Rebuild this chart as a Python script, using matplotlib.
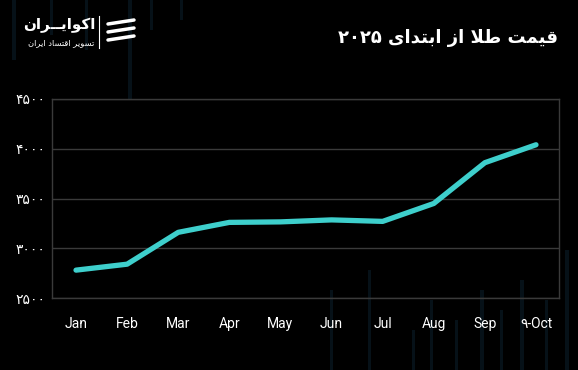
import matplotlib
matplotlib.use("Agg")
import matplotlib.pyplot as plt
from matplotlib.lines import Line2D
from matplotlib.patches import Rectangle

months = ["Jan", "Feb", "Mar", "Apr", "May", "Jun", "Jul", "Aug", "Sep", "\u06f9-Oct"]
prices = [2780, 2840, 3160, 3260, 3265, 3285, 3270, 3450, 3860, 4040]
yticks = [2500, 3000, 3500, 4000, 4500]
ytick_labels = ["\u06f2\u06f5\u06f0\u06f0", "\u06f3\u06f0\u06f0\u06f0", "\u06f3\u06f5\u06f0\u06f0",
                "\u06f4\u06f0\u06f0\u06f0", "\u06f4\u06f5\u06f0\u06f0"]

# Persian text in visual (shaped, left-to-right) order
title = ("\u06f2\u06f0\u06f2\u06f5 "
         "\uFEEF\uFE8D\uFEAA\uFE98\uFE91\uFE8D "
         "\uFEAF\uFE8D "
         "\uFEFC\uFEC3 "
         "\uFE96\uFEE4\uFEF4\uFED7")
logo_main = "\uFEE5\uFE8D\uFEAE\u0640\u0640\uFEF3\uFE8D\uFEEE\uFEDB\uFE8D"
logo_sub = ("\uFEE5\uFE8D\uFEAE\uFEF3\uFE8D "
            "\uFEA9\uFE8E\uFEB4\uFE98\uFED7\uFE8D "
            "\uFEAE\uFEF3\uFEEE\uFEB4\uFE97")

BG = "#000000"
LINE = "#3ecfcc"
GRID = "#3a3a3a"
DECO = "#061118"

fig = plt.figure(figsize=(5.78, 3.70), dpi=100, facecolor=BG)
W, H = 578, 370

# faint decorative background bars
for bx, by, bw, bh in [(12, 0, 4, 60), (50, 0, 3, 35), (85, 0, 3, 50), (128, 0, 4, 100),
                       (150, 0, 3, 30), (180, 0, 3, 20),
                       (330, 290, 3, 80), (368, 270, 3, 100), (412, 330, 3, 40), (430, 300, 3, 70),
                       (455, 320, 3, 50), (480, 290, 4, 80), (500, 310, 3, 60), (520, 280, 4, 90),
                       (545, 300, 3, 70), (565, 250, 4, 120)]:
    fig.add_artist(Rectangle((bx / W, 1 - (by + bh) / H), bw / W, bh / H,
                             transform=fig.transFigure, color=DECO, lw=0, zorder=0))

ax = fig.add_axes([52 / W, 1 - 298 / H, (559 - 52) / W, (298 - 99) / H])
ax.set_facecolor("none")
ax.set_zorder(2)

x = list(range(len(months)))
ax.plot(x, prices, color=LINE, lw=3.8, solid_capstyle="round", solid_joinstyle="round", zorder=3)

ax.set_ylim(2500, 4500)
ax.set_xlim(-0.47, 9.45)
ax.set_yticks(yticks)
ax.set_yticklabels(ytick_labels, family="DejaVu Sans", fontsize=10, color="white")
ax.set_xticks(x)
ax.set_xticklabels(months, family=["Roboto", "DejaVu Sans"], fontsize=10, color="white")
ax.tick_params(axis="x", length=0, pad=14)
ax.tick_params(axis="y", length=0, pad=5)
ax.grid(axis="y", color=GRID, lw=1)
for s in ax.spines.values():
    s.set_color(GRID)
    s.set_linewidth(1)

fig.text(558 / W, 1 - 38 / H, title, ha="right", va="center", color="white",
         fontsize=13, fontweight="bold", family="DejaVu Sans")

fig.text(95 / W, 1 - 25 / H, logo_main, ha="right", va="center", color="white",
         fontsize=11, fontweight="bold", family="DejaVu Sans")
fig.text(94 / W, 1 - 43 / H, logo_sub, ha="right", va="center", color="white",
         fontsize=6, family="DejaVu Sans")
fig.add_artist(Line2D([99 / W, 99 / W], [1 - 16 / H, 1 - 48 / H], color="white", lw=0.8))
# simple logo mark
for dy in (0, 8, 16):
    fig.add_artist(Line2D([108 / W, 134 / W], [1 - (24 + dy) / H, 1 - (20 + dy) / H],
                          color="white", lw=2.5, solid_capstyle="round"))

fig.savefig("out.png", dpi=100, facecolor=BG)
